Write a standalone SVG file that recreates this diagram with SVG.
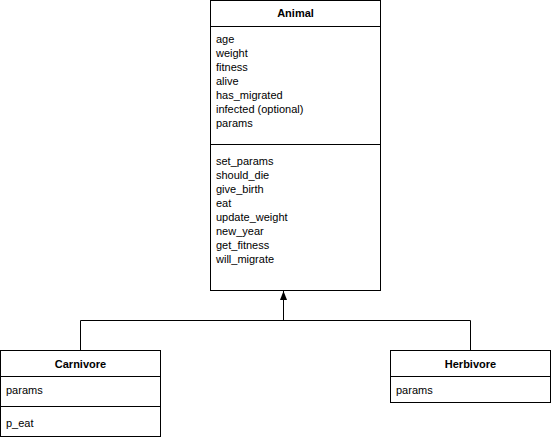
<svg xmlns="http://www.w3.org/2000/svg" width="551" height="440" viewBox="0 0 551 440">
<style>
.box{fill:#fff;stroke:#000;stroke-width:1}
.ln{stroke:#000;stroke-width:1;fill:none}
.t{font-family:"Liberation Sans",Arial,sans-serif;font-size:11px;fill:#000}
.h{font-family:"Liberation Sans",Arial,sans-serif;font-size:11px;font-weight:bold;fill:#000;text-anchor:middle}
</style>
<defs>
<marker id="arr" markerWidth="10" markerHeight="10" refX="9" refY="3.5" orient="auto" markerUnits="userSpaceOnUse">
<path d="M0,0 L9,3.5 L0,7 Z" fill="#000"/>
</marker>
</defs>
<g id="connectors">
<path class="ln" d="M80.5,350 V320.5 H470.5 V350"/>
<path class="ln" d="M283.5,320 V291" marker-end="url(#arr)"/>
</g>
<g id="Animal">
<rect class="box" x="210.5" y="0.5" width="170" height="290"/>
<line class="ln" x1="210.5" y1="26.5" x2="380.5" y2="26.5"/>
<line class="ln" x1="210.5" y1="144.5" x2="380.5" y2="144.5"/>
<text class="h" x="295.5" y="17">Animal</text>
<text class="t" x="216" y="43">age</text>
<text class="t" x="216" y="57">weight</text>
<text class="t" x="216" y="71">fitness</text>
<text class="t" x="216" y="85">alive</text>
<text class="t" x="216" y="99">has_migrated</text>
<text class="t" x="216" y="113">infected (optional)</text>
<text class="t" x="216" y="127">params</text>
<text class="t" x="216" y="165">set_params</text>
<text class="t" x="216" y="179">should_die</text>
<text class="t" x="216" y="193">give_birth</text>
<text class="t" x="216" y="207">eat</text>
<text class="t" x="216" y="221">update_weight</text>
<text class="t" x="216" y="235">new_year</text>
<text class="t" x="216" y="249">get_fitness</text>
<text class="t" x="216" y="263">will_migrate</text>
</g>
<g id="Carnivore">
<rect class="box" x="0.5" y="350.5" width="160" height="86"/>
<line class="ln" x1="0.5" y1="376.5" x2="160.5" y2="376.5"/>
<line class="ln" x1="0.5" y1="406.5" x2="160.5" y2="406.5"/>
<text class="h" x="80.5" y="368">Carnivore</text>
<text class="t" x="6" y="394">params</text>
<text class="t" x="6" y="427">p_eat</text>
</g>
<g id="Herbivore">
<rect class="box" x="390.5" y="350.5" width="160" height="52"/>
<line class="ln" x1="390.5" y1="376.5" x2="550.5" y2="376.5"/>
<text class="h" x="470.5" y="368">Herbivore</text>
<text class="t" x="396" y="394">params</text>
</g>
</svg>
